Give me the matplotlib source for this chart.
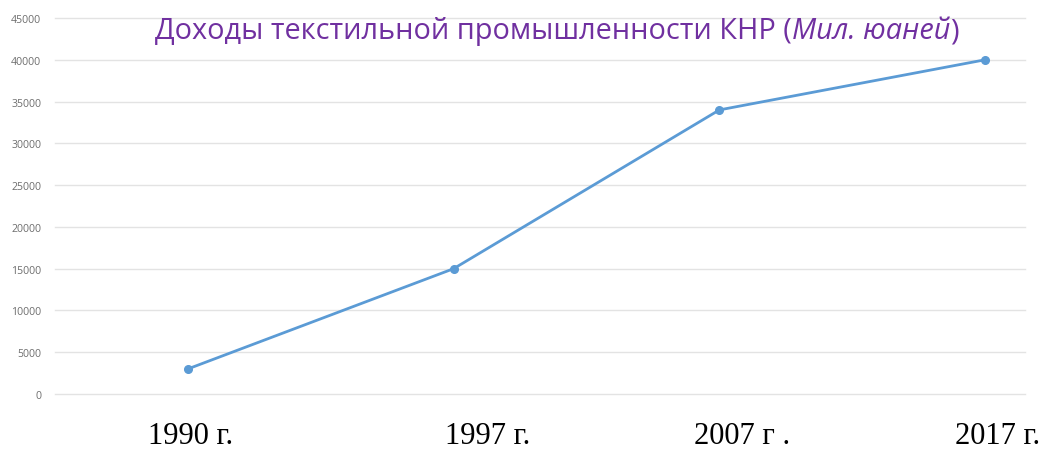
import matplotlib
matplotlib.use("Agg")
import matplotlib.pyplot as plt

# data
years = ["1990 г.", "1997 г.", "2007 г .", "2017 г."]
income = [3000, 15000, 34000, 40000]
y_ticks = [0, 5000, 10000, 15000, 20000, 25000, 30000, 35000, 40000, 45000]

C_LINE = "#5B9BD5"
C_GRID = "#E3E3E3"
C_TICK = "#6E6E6E"
C_TITLE = "#7030A0"

fig = plt.figure(figsize=(10.45, 4.52), dpi=100)
ax = fig.add_axes([55 / 1045, 57 / 452, 970 / 1045, 376 / 452])

xs = list(range(len(income)))
ax.plot(xs, income, color=C_LINE, linewidth=2.0, marker="o", markersize=5.5,
        zorder=3, clip_on=False)

ax.set_xlim(-0.5, 3.15)
ax.set_ylim(0, 45000)
ax.set_yticks(y_ticks)
ax.set_yticklabels([str(v) for v in y_ticks], fontfamily="Open Sans",
                   fontsize=7.6, color=C_TICK)
ax.set_xticks([])
ax.tick_params(axis="y", length=0, pad=10)
ax.grid(True, axis="y", color=C_GRID, linewidth=1)
ax.set_axisbelow(True)
for gl in ax.get_ygridlines():
    gl.set_clip_on(False)
for s in ax.spines.values():
    s.set_visible(False)

# category labels sit a bit off the points in the original
label_x = [191, 488, 742, 998]
for lx, lab in zip(label_x, years):
    fig.text(lx / 1045, 1 - 444 / 452, lab, ha="center", va="baseline",
             fontfamily="Liberation Serif", fontsize=22, color="black")

# title: regular + italic part
fs = 20.8
t1 = fig.text(155 / 1045, 1 - 46 / 452, "Доходы текстильной промышленности КНР (",
              fontfamily="Open Sans", fontsize=fs, color=C_TITLE, va="bottom")
t2 = ax.annotate("Мил. юаней", xy=(1, 0), xycoords=t1, va="bottom",
                 fontfamily="Open Sans", fontstyle="italic", fontsize=fs, color=C_TITLE)
ax.annotate(")", xy=(1, 0), xycoords=t2, va="bottom",
            fontfamily="Open Sans", fontsize=fs, color=C_TITLE)

fig.savefig("out.png", dpi=100, facecolor="white")
